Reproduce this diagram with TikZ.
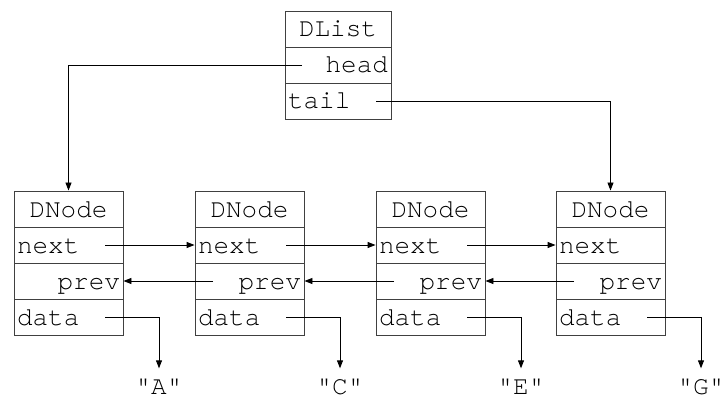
\documentclass[tikz,border=0pt]{standalone}
\usepackage{fontspec}
\setmonofont{TeX Gyre Cursor}
\usetikzlibrary{arrows.meta}
\newcommand{\cellstrut}{\rule[-7pt]{0pt}{30pt}}
\begin{document}
\begin{tikzpicture}[x=1pt,y=1pt,
  cell/.style={draw=black!75, line width=0.9pt, minimum height=36pt,
    inner xsep=3pt, inner ysep=0pt, text width=103pt,
    font=\ttfamily\fontsize{26}{30}\selectfont,
    execute at begin node=\cellstrut},
  listcell/.style={cell, text width=100pt},
  val/.style={anchor=base, inner xsep=0pt, inner ysep=1pt,
    font=\ttfamily\fontsize{26}{30}\selectfont},
  ptr/.style={draw=black, line width=0.9pt, -{Triangle[length=8pt,width=6pt]}}]
\useasboundingbox (0,0) rectangle (722,-398);

% the list header
\node[listcell, align=center] (Lt) at (338,-29) {DList};
\node[listcell, align=right]  (Lh) at (338,-65) {head};
\node[listcell, align=left]   (Ll) at (338,-101) {tail};
\coordinate (Lhs) at (302,-65);
\coordinate (Lls) at (376,-101);

% the four nodes and their data values
\foreach \i/\cx/\v in {1/68.5/A, 2/249.5/C, 3/430.5/E, 4/610.5/G} {
  \node[cell, align=center] (n\i t) at (\cx,-209) {DNode};
  \node[cell, align=left]   (n\i n) at (\cx,-245) {next};
  \node[cell, align=right]  (n\i p) at (\cx,-281) {prev};
  \node[cell, align=left]   (n\i d) at (\cx,-317) {data};
  \coordinate (n\i ns) at (\cx+36.5,-245);
  \coordinate (n\i ps) at (\cx-36.5,-281);
  \coordinate (n\i ds) at (\cx+36.5,-317);
  \node[val] (v\i) at (\cx+90.5,-394) {"\v"};
  \draw[ptr, shorten >=9pt] (n\i ds) -| (v\i.north);
}

% links between neighbouring nodes
\foreach \i/\j in {1/2, 2/3, 3/4} {
  \draw[ptr] (n\i ns) -- (n\j n.west);
  \draw[ptr] (n\j ps) -- (n\i p.east);
}

% head and tail pointers
\draw[ptr] (Lhs) -| (n1t.north);
\draw[ptr] (Lls) -| (n4t.north);
\end{tikzpicture}
\end{document}
